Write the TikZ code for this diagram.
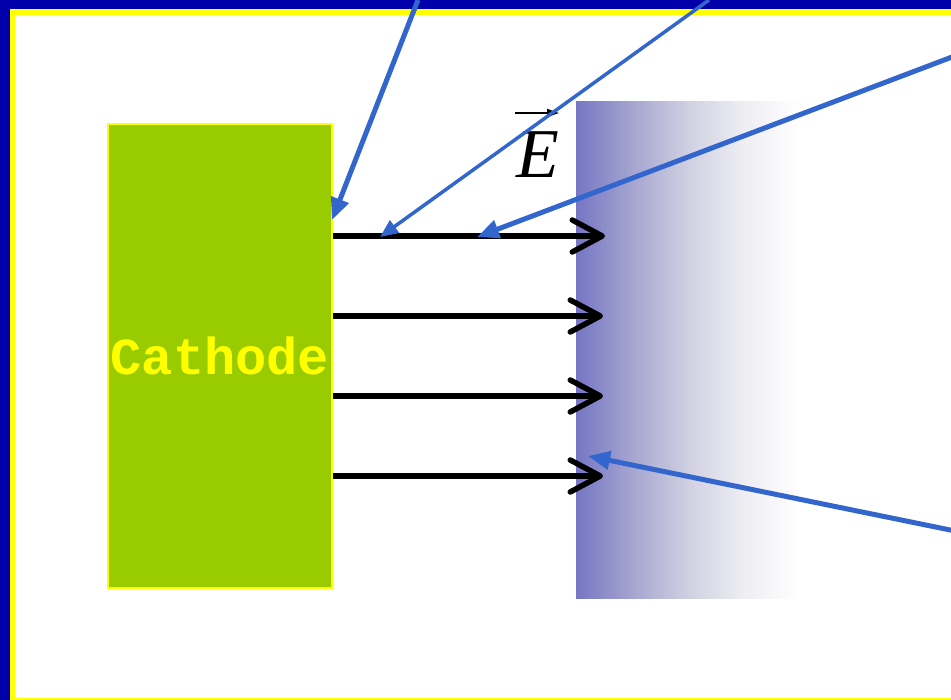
\documentclass[tikz,border=0pt]{standalone}
\usepackage{fontspec}
\setmainfont{Liberation Serif}
\newfontfamily\cathfont{Liberation Mono}
\usetikzlibrary{arrows.meta}
\definecolor{frameblue}{RGB}{0,0,170}
\definecolor{frameyellow}{RGB}{255,255,0}
\definecolor{cathgreen}{RGB}{153,204,0}
\definecolor{plateA}{RGB}{118,118,196}
\definecolor{plateB}{RGB}{165,165,208}
\definecolor{plateC}{RGB}{208,208,226}
\definecolor{plateD}{RGB}{238,238,243}
\definecolor{ebblue}{RGB}{51,102,204}
\pgfdeclarehorizontalshading{platefade}{100bp}{color(0bp)=(plateA); color(25bp)=(plateA); color(37.5bp)=(plateB); color(50bp)=(plateC); color(62.5bp)=(plateD); color(75bp)=(white); color(100bp)=(white)}
\tikzset{
  fieldarrow/.style={line width=5.5pt,-{Straight Barb[length=30pt,width=32pt,round]}},
  bluethick/.style={ebblue,line width=5pt,-{Triangle[length=22pt,width=18pt]}},
  bluethin/.style={ebblue,line width=3.5pt,-{Triangle[length=18pt,width=15pt]}},
}
\begin{document}
\begin{tikzpicture}[x=1pt,y=-1pt]
\useasboundingbox (0,0) rectangle (951,700);
\clip (0,0) rectangle (951,700);
% frame
\fill[frameblue] (0,0) rectangle (951,9.5);
\fill[frameblue] (0,0) rectangle (9.5,700);
\fill[frameyellow] (9.5,9.5) rectangle (951,15);
\fill[frameyellow] (9.5,9.5) rectangle (15,700);
\fill[frameyellow] (9.5,698) rectangle (951,700);
% plate with gradient
\shade[shading=platefade] (576,102) rectangle (800,598);
\node[inner sep=0pt, minimum width=224pt, minimum height=496pt] (plate) at (688,350) {};
% cathode
\node[draw=frameyellow, line width=1.5pt, fill=cathgreen, minimum width=224pt, minimum height=464pt, inner sep=0pt,
      text=frameyellow, font=\cathfont\bfseries\fontsize{52}{52}\selectfont] (cathode) at (220,356) {Cathode};
% field arrows
\coordinate (s1) at (333,236); \coordinate (t1) at (605,236);
\coordinate (s2) at (333,316); \coordinate (t2) at (603,316);
\coordinate (s3) at (333,396); \coordinate (t3) at (603,396);
\coordinate (s4) at (333,476); \coordinate (t4) at (603,476);
\draw[fieldarrow] (s1) -- (t1);
\draw[fieldarrow] (s2) -- (t2);
\draw[fieldarrow] (s3) -- (t3);
\draw[fieldarrow] (s4) -- (t4);
% E label
\node[font=\itshape\fontsize{70}{70}\selectfont, inner sep=0pt] (elabel) at (538,155) {E};
\coordinate (ea) at (515,113); \coordinate (eb) at (559,113);
\draw[line width=1.8pt, -{Triangle[length=12pt,width=8pt]}] (ea) -- (eb);
% blue pointer arrows
\coordinate (p1) at (418,0);   \coordinate (q1) at (332,220);
\coordinate (p2) at (709,0);   \coordinate (q2) at (380,237);
\coordinate (p3) at (960,54);  \coordinate (q3) at (477,237);
\coordinate (p4) at (960,532); \coordinate (q4) at (588,456);
\draw[bluethick] (p1) -- (q1);
\draw[bluethin] (p2) -- (q2);
\draw[bluethick] (p3) -- (q3);
\draw[bluethick] (p4) -- (q4);
\end{tikzpicture}
\end{document}
